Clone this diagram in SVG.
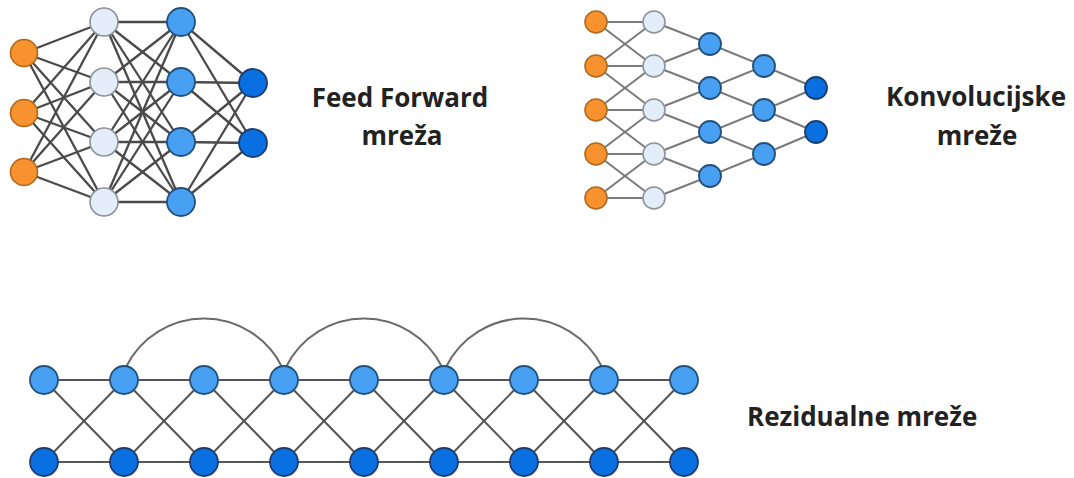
<svg xmlns="http://www.w3.org/2000/svg" width="1074" height="478" viewBox="0 0 1074 478">
<style>
.bg{fill:#ffffff}
.ln{stroke:#4a4a4a;stroke-width:2.3;fill:none;stroke-linecap:round}
.lc{stroke:#7a7a7a;stroke-width:2;fill:none;stroke-linecap:round}
.lr{stroke:#555555;stroke-width:2;fill:none;stroke-linecap:round}
.arc{stroke:#6a6a6a;stroke-width:2;fill:none}
.o{fill:#F7922E;stroke:#B0691E;stroke-width:1.6}
.l{fill:#E3EEFA;stroke:#8C939B;stroke-width:1.6}
.m{fill:#47A0F2;stroke:#22507C;stroke-width:1.8}
.d{fill:#0A6FE0;stroke:#1B3E6E;stroke-width:1.8}
.t{font-family:"Open Sans","Liberation Sans",sans-serif;font-weight:700;font-size:26px;fill:#222222}
</style>
<rect class="bg" x="0" y="0" width="1074" height="478"/>
<g id="connectors">
<g id="ff-edges" class="ln">
<line x1="24" y1="53" x2="104" y2="22"/><line x1="24" y1="53" x2="104" y2="82"/><line x1="24" y1="53" x2="104" y2="142"/><line x1="24" y1="53" x2="104" y2="202"/>
<line x1="24" y1="113" x2="104" y2="22"/><line x1="24" y1="113" x2="104" y2="82"/><line x1="24" y1="113" x2="104" y2="142"/><line x1="24" y1="113" x2="104" y2="202"/>
<line x1="24" y1="172" x2="104" y2="22"/><line x1="24" y1="172" x2="104" y2="82"/><line x1="24" y1="172" x2="104" y2="142"/><line x1="24" y1="172" x2="104" y2="202"/>
<line x1="104" y1="22" x2="181" y2="22"/><line x1="104" y1="22" x2="181" y2="82"/><line x1="104" y1="22" x2="181" y2="142"/><line x1="104" y1="22" x2="181" y2="202"/>
<line x1="104" y1="82" x2="181" y2="22"/><line x1="104" y1="82" x2="181" y2="82"/><line x1="104" y1="82" x2="181" y2="142"/><line x1="104" y1="82" x2="181" y2="202"/>
<line x1="104" y1="142" x2="181" y2="22"/><line x1="104" y1="142" x2="181" y2="82"/><line x1="104" y1="142" x2="181" y2="142"/><line x1="104" y1="142" x2="181" y2="202"/>
<line x1="104" y1="202" x2="181" y2="22"/><line x1="104" y1="202" x2="181" y2="82"/><line x1="104" y1="202" x2="181" y2="142"/><line x1="104" y1="202" x2="181" y2="202"/>
<line x1="181" y1="22" x2="253" y2="83"/><line x1="181" y1="22" x2="253" y2="143"/>
<line x1="181" y1="82" x2="253" y2="83"/><line x1="181" y1="82" x2="253" y2="143"/>
<line x1="181" y1="142" x2="253" y2="83"/><line x1="181" y1="142" x2="253" y2="143"/>
<line x1="181" y1="202" x2="253" y2="83"/><line x1="181" y1="202" x2="253" y2="143"/>
</g>
<g id="conv-edges" class="lc">
<line x1="596" y1="22" x2="654" y2="22"/><line x1="596" y1="22" x2="654" y2="66"/>
<line x1="596" y1="66" x2="654" y2="22"/><line x1="596" y1="66" x2="654" y2="66"/><line x1="596" y1="66" x2="654" y2="110"/>
<line x1="596" y1="110" x2="654" y2="66"/><line x1="596" y1="110" x2="654" y2="110"/><line x1="596" y1="110" x2="654" y2="154"/>
<line x1="596" y1="154" x2="654" y2="110"/><line x1="596" y1="154" x2="654" y2="154"/><line x1="596" y1="154" x2="654" y2="198"/>
<line x1="596" y1="198" x2="654" y2="154"/><line x1="596" y1="198" x2="654" y2="198"/>
<line x1="654" y1="22" x2="710" y2="44"/>
<line x1="654" y1="66" x2="710" y2="44"/><line x1="654" y1="66" x2="710" y2="88"/>
<line x1="654" y1="110" x2="710" y2="88"/><line x1="654" y1="110" x2="710" y2="132"/>
<line x1="654" y1="154" x2="710" y2="132"/><line x1="654" y1="154" x2="710" y2="176"/>
<line x1="654" y1="198" x2="710" y2="176"/>
<line x1="710" y1="44" x2="764" y2="66"/>
<line x1="710" y1="88" x2="764" y2="66"/><line x1="710" y1="88" x2="764" y2="110"/>
<line x1="710" y1="132" x2="764" y2="110"/><line x1="710" y1="132" x2="764" y2="154"/>
<line x1="710" y1="176" x2="764" y2="154"/>
<line x1="764" y1="66" x2="816" y2="88"/>
<line x1="764" y1="110" x2="816" y2="88"/><line x1="764" y1="110" x2="816" y2="132"/>
<line x1="764" y1="154" x2="816" y2="132"/>
</g>
<g id="res-edges" class="lr">
<line x1="44" y1="380" x2="684" y2="380"/>
<line x1="44" y1="462" x2="684" y2="462"/>
<line x1="44" y1="380" x2="124" y2="462"/><line x1="44" y1="462" x2="124" y2="380"/>
<line x1="124" y1="380" x2="204" y2="462"/><line x1="124" y1="462" x2="204" y2="380"/>
<line x1="204" y1="380" x2="284" y2="462"/><line x1="204" y1="462" x2="284" y2="380"/>
<line x1="284" y1="380" x2="364" y2="462"/><line x1="284" y1="462" x2="364" y2="380"/>
<line x1="364" y1="380" x2="444" y2="462"/><line x1="364" y1="462" x2="444" y2="380"/>
<line x1="444" y1="380" x2="524" y2="462"/><line x1="444" y1="462" x2="524" y2="380"/>
<line x1="524" y1="380" x2="604" y2="462"/><line x1="524" y1="462" x2="604" y2="380"/>
<line x1="604" y1="380" x2="684" y2="462"/><line x1="604" y1="462" x2="684" y2="380"/>
</g>
<g id="res-skips" class="arc">
<path d="M126,367 A87,87 0 0 1 282,367"/>
<path d="M286,367 A87,87 0 0 1 442,367"/>
<path d="M446,367 A87,87 0 0 1 602,367"/>
</g>
</g>
<g id="ff-nodes">
<circle class="o" cx="24" cy="53" r="13.5"/><circle class="o" cx="24" cy="113" r="13.5"/><circle class="o" cx="24" cy="172" r="13.5"/>
<circle class="l" cx="104" cy="22" r="14"/><circle class="l" cx="104" cy="82" r="14"/><circle class="l" cx="104" cy="142" r="14"/><circle class="l" cx="104" cy="202" r="14"/>
<circle class="m" cx="181" cy="22" r="14"/><circle class="m" cx="181" cy="82" r="14"/><circle class="m" cx="181" cy="142" r="14"/><circle class="m" cx="181" cy="202" r="14"/>
<circle class="d" cx="253" cy="83" r="14"/><circle class="d" cx="253" cy="143" r="14"/>
</g>
<g id="conv-nodes">
<circle class="o" cx="596" cy="22" r="11"/><circle class="o" cx="596" cy="66" r="11"/><circle class="o" cx="596" cy="110" r="11"/><circle class="o" cx="596" cy="154" r="11"/><circle class="o" cx="596" cy="198" r="11"/>
<circle class="l" cx="654" cy="22" r="11"/><circle class="l" cx="654" cy="66" r="11"/><circle class="l" cx="654" cy="110" r="11"/><circle class="l" cx="654" cy="154" r="11"/><circle class="l" cx="654" cy="198" r="11"/>
<circle class="m" cx="710" cy="44" r="11"/><circle class="m" cx="710" cy="88" r="11"/><circle class="m" cx="710" cy="132" r="11"/><circle class="m" cx="710" cy="176" r="11"/>
<circle class="m" cx="764" cy="66" r="11"/><circle class="m" cx="764" cy="110" r="11"/><circle class="m" cx="764" cy="154" r="11"/>
<circle class="d" cx="816" cy="88" r="11"/><circle class="d" cx="816" cy="132" r="11"/>
</g>
<g id="res-nodes">
<circle class="m" cx="44" cy="380" r="14"/><circle class="m" cx="124" cy="380" r="14"/><circle class="m" cx="204" cy="380" r="14"/><circle class="m" cx="284" cy="380" r="14"/><circle class="m" cx="364" cy="380" r="14"/><circle class="m" cx="444" cy="380" r="14"/><circle class="m" cx="524" cy="380" r="14"/><circle class="m" cx="604" cy="380" r="14"/><circle class="m" cx="684" cy="380" r="14"/>
<circle class="d" cx="44" cy="462" r="14"/><circle class="d" cx="124" cy="462" r="14"/><circle class="d" cx="204" cy="462" r="14"/><circle class="d" cx="284" cy="462" r="14"/><circle class="d" cx="364" cy="462" r="14"/><circle class="d" cx="444" cy="462" r="14"/><circle class="d" cx="524" cy="462" r="14"/><circle class="d" cx="604" cy="462" r="14"/><circle class="d" cx="684" cy="462" r="14"/>
</g>
<g id="labels">
<text class="t" x="400" y="107" text-anchor="middle">Feed Forward</text>
<text class="t" x="402" y="145" text-anchor="middle">mreža</text>
<text class="t" x="976" y="106" text-anchor="middle">Konvolucijske</text>
<text class="t" x="977" y="145" text-anchor="middle">mreže</text>
<text class="t" x="747" y="426">Rezidualne mreže</text>
</g>
</svg>
